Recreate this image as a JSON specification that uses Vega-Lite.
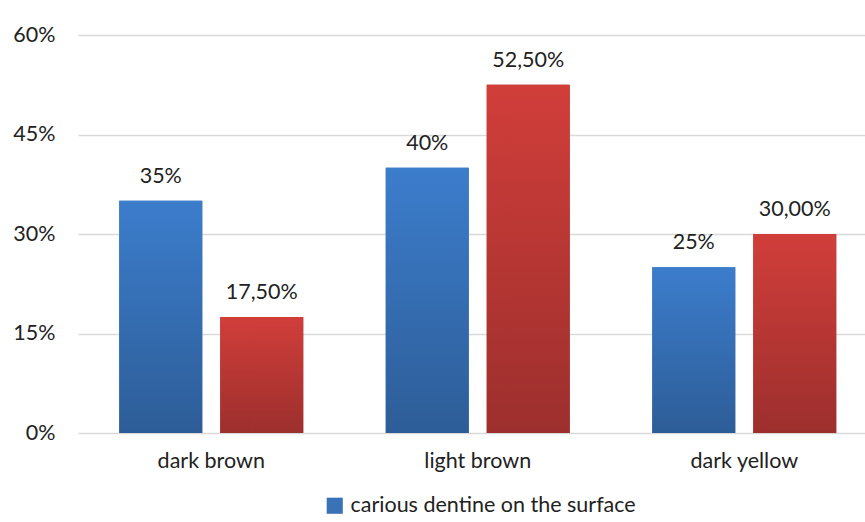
{
  "$schema": "https://vega.github.io/schema/vega-lite/v6.json",
  "width": 787,
  "height": 398,
  "autosize": "none",
  "padding": {"left": 78, "top": 35, "right": 0, "bottom": 89},
  "background": "white",
  "config": {"view": {"stroke": null}, "font": "Lato"},
  "data": {
    "values": [
      {"category": "dark brown", "series": "carious dentine on the surface", "value": 0.35, "label": "35%"},
      {"category": "dark brown", "series": "carious dentine in depth", "value": 0.175, "label": "17,50%"},
      {"category": "light brown", "series": "carious dentine on the surface", "value": 0.40, "label": "40%"},
      {"category": "light brown", "series": "carious dentine in depth", "value": 0.525, "label": "52,50%"},
      {"category": "dark yellow", "series": "carious dentine on the surface", "value": 0.25, "label": "25%"},
      {"category": "dark yellow", "series": "carious dentine in depth", "value": 0.30, "label": "30,00%"}
    ]
  },
  "encoding": {
    "x": {
      "field": "category",
      "type": "nominal",
      "sort": ["dark brown", "light brown", "dark yellow"],
      "scale": {"range": [0, 799.5], "paddingInner": 0.3096, "paddingOuter": 0.1548},
      "axis": {
        "title": null,
        "labelAngle": 0,
        "domain": false,
        "ticks": false,
        "labelFontSize": 21.5,
        "labelColor": "#222222",
        "labelPadding": 17
      }
    },
    "xOffset": {
      "field": "series",
      "type": "nominal",
      "sort": ["carious dentine on the surface", "carious dentine in depth"],
      "scale": {"paddingInner": 0.178, "paddingOuter": 0}
    },
    "y": {
      "field": "value",
      "type": "quantitative",
      "scale": {"domain": [0, 0.6], "nice": false},
      "axis": {
        "title": null,
        "values": [0, 0.15, 0.3, 0.45, 0.6],
        "format": ".0%",
        "domain": false,
        "ticks": false,
        "labelFontSize": 21.5,
        "labelColor": "#222222",
        "labelPadding": 23,
        "gridColor": "#d9d9d9",
        "gridWidth": 1.5
      }
    }
  },
  "layer": [
    {
      "mark": {"type": "bar"},
      "encoding": {
        "color": {
          "field": "series",
          "type": "nominal",
          "scale": {
            "domain": ["carious dentine on the surface", "carious dentine in depth"],
            "range": ["#3a72b8", "#b83532"]
          },
          "legend": {
            "values": ["carious dentine on the surface"],
            "title": null,
            "orient": "none",
            "legendX": 246,
            "legendY": 460,
            "direction": "horizontal",
            "symbolType": "square",
            "symbolSize": 260,
            "symbolStrokeWidth": 0,
            "labelFontSize": 21.5,
            "labelColor": "#222222",
            "labelOffset": 5,
            "labelLimit": 500,
            "padding": 0
          }
        }
      }
    },
    {
      "transform": [{"filter": "datum.series === 'carious dentine on the surface'"}],
      "mark": {
        "type": "bar",
        "color": {
          "gradient": "linear",
          "x1": 0, "y1": 0, "x2": 0, "y2": 1,
          "stops": [
            {"offset": 0, "color": "#3c7dcc"},
            {"offset": 1, "color": "#2d5d97"}
          ]
        }
      }
    },
    {
      "transform": [{"filter": "datum.series === 'carious dentine in depth'"}],
      "mark": {
        "type": "bar",
        "color": {
          "gradient": "linear",
          "x1": 0, "y1": 0, "x2": 0, "y2": 1,
          "stops": [
            {"offset": 0, "color": "#d13e3a"},
            {"offset": 1, "color": "#9c2f2d"}
          ]
        }
      }
    },
    {
      "mark": {"type": "text", "dy": -18, "baseline": "alphabetic", "fontSize": 21.5, "color": "#222222"},
      "encoding": {"text": {"field": "label"}}
    }
  ]
}
